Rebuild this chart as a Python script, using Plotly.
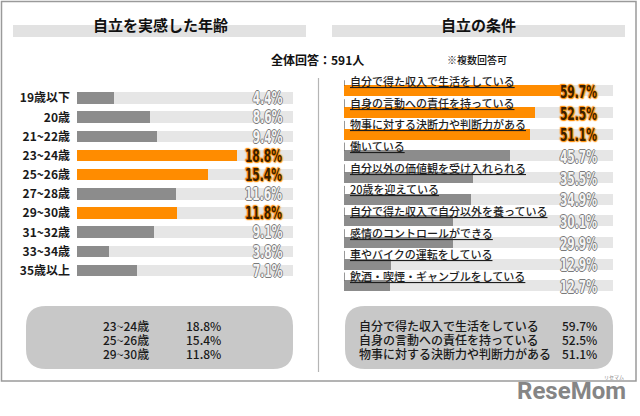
import plotly.graph_objects as go

W, H = 640, 416


def px(x):
    return x / W


def py(y):
    return 1 - y / H


# ---------------- data ----------------
ages = ["19歳以下", "20歳", "21~22歳", "23~24歳", "25~26歳",
        "27~28歳", "29~30歳", "31~32歳", "33~34歳", "35歳以上"]
age_pct = [4.4, 8.6, 9.4, 18.8, 15.4, 11.6, 11.8, 9.1, 3.8, 7.1]

conditions = [
    "自分で得た収入で生活をしている",
    "自身の言動への責任を持っている",
    "物事に対する決断力や判断力がある",
    "働いている",
    "自分以外の価値観を受け入れられる",
    "20歳を迎えている",
    "自分で得た収入で自分以外を養っている",
    "感情のコントロールができる",
    "車やバイクの運転をしている",
    "飲酒・喫煙・ギャンブルをしている",
]
cond_pct = [59.7, 52.5, 51.1, 45.7, 35.5, 34.9, 30.1, 29.9, 12.9, 12.7]

total_n = 591
title_left = "自立を実感した年齢"
title_right = "自立の条件"
note_total = "全体回答：%d人" % total_n
note_multi = "※複数回答可"

AGE_MAX = 25.4
COND_MAX = 74.0

# ---------------- styles ----------------
ORANGE = "#ff8c00"
GRAY = "#8c8c8c"
TRACK = "#e6e6e6"
BOX = "#c8c8c8"
JP = "Noto Sans CJK JP, sans-serif"
NARROW = "Liberation Sans Narrow, Nimbus Sans Narrow, DejaVu Sans Condensed, Roboto Condensed, Roboto, sans-serif"
HI_SHADOW = "0 0 2px #ff8c00, 0 0 2px #ff8c00, 1px 1px 1px #ff8c00, -1px -1px 1px #ff8c00"
LO_SHADOW = "1px 0 0 #7a7a7a, -1px 0 0 #7a7a7a, 0 1px 0 #7a7a7a, 0 -1px 0 #7a7a7a"

top_ages = sorted(range(len(age_pct)), key=lambda i: -age_pct[i])[:3]
top_ages_sorted = sorted(top_ages, key=lambda i: -age_pct[i])
age_colors = [ORANGE if i in top_ages else GRAY for i in range(len(ages))]
cond_colors = [ORANGE if i < 3 else GRAY for i in range(len(conditions))]

fig = go.Figure()

# left panel
fig.add_trace(go.Bar(y=ages, x=[AGE_MAX] * len(ages), orientation="h",
                     marker=dict(color=TRACK, line=dict(width=0)), width=0.6,
                     xaxis="x", yaxis="y", hoverinfo="skip"))
fig.add_trace(go.Bar(y=ages, x=age_pct, orientation="h",
                     marker=dict(color=age_colors, line=dict(width=0)), width=0.6,
                     xaxis="x", yaxis="y"))

# right panel
cond_idx = list(range(len(conditions)))
fig.add_trace(go.Bar(y=cond_idx, x=[COND_MAX] * len(conditions), orientation="h",
                     marker=dict(color=TRACK, line=dict(width=0)), width=0.5,
                     xaxis="x2", yaxis="y2", hoverinfo="skip"))
fig.add_trace(go.Bar(y=cond_idx, x=cond_pct, orientation="h",
                     marker=dict(color=cond_colors, line=dict(width=0)), width=0.5,
                     xaxis="x2", yaxis="y2", hovertext=conditions))

annotations = []
shapes = []

# percentage labels, left
for i, (a, v) in enumerate(zip(ages, age_pct)):
    hi = i in top_ages
    annotations.append(dict(
        x=AGE_MAX - 1.1, y=i, xref="x", yref="y", xanchor="right", yanchor="middle",
        text="<b>%.1f%%</b>" % v, showarrow=False,
        font=dict(family=NARROW, size=17, color="#3a1e00" if hi else "#f4f4f4",
                  shadow=HI_SHADOW if hi else LO_SHADOW)))

# labels + percentages, right
for i, (c, v) in enumerate(zip(conditions, cond_pct)):
    hi = i < 3
    annotations.append(dict(
        x=0, y=i, xref="x2", yref="y2", xanchor="left", yanchor="middle",
        xshift=4, yshift=10, text=c, showarrow=False,
        font=dict(family=JP, size=11, color="#1e1e1e", lineposition="under", weight=500)))
    annotations.append(dict(
        x=COND_MAX - 3.8, y=i, xref="x2", yref="y2", xanchor="right", yanchor="middle",
        yshift=-1, text="<b>%.1f%%</b>" % v, showarrow=False,
        font=dict(family=NARROW, size=17, color="#3a1e00" if hi else "#f4f4f4",
                  shadow=HI_SHADOW if hi else LO_SHADOW)))
    shapes.append(dict(type="line", xref="x2", yref="y2", x0=0, x1=0,
                       y0=i - 0.62, y1=i - 0.25, line=dict(color="#333", width=1)))

# outer frame
shapes.append(dict(type="rect", xref="paper", yref="paper",
                   x0=px(1.5), x1=px(636), y0=py(381), y1=py(1.5),
                   line=dict(color="#9a9a9a", width=1.5), fillcolor="rgba(0,0,0,0)", layer="below"))
# divider
shapes.append(dict(type="line", xref="paper", yref="paper",
                   x0=px(318.5), x1=px(318.5), y0=py(372), y1=py(78),
                   line=dict(color="#b5b5b5", width=1.2)))
# title bands
for x0, x1 in [(13, 306), (332, 625)]:
    shapes.append(dict(type="rect", xref="paper", yref="paper",
                       x0=px(x0), x1=px(x1), y0=py(37), y1=py(25),
                       line=dict(width=0), fillcolor="#e2e2e2", layer="below"))


def rounded(x0, y0, x1, y1, r):
    rx, ry = r / W, r / H
    X0, X1, Y0, Y1 = px(x0), px(x1), py(y1), py(y0)
    return ("M %f,%f L %f,%f Q %f,%f %f,%f L %f,%f Q %f,%f %f,%f "
            "L %f,%f Q %f,%f %f,%f L %f,%f Q %f,%f %f,%f Z" % (
                X0 + rx, Y0, X1 - rx, Y0, X1, Y0, X1, Y0 + ry,
                X1, Y1 - ry, X1, Y1, X1 - rx, Y1,
                X0 + rx, Y1, X0, Y1, X0, Y1 - ry,
                X0, Y0 + ry, X0, Y0, X0 + rx, Y0))


for x0, x1 in [(26, 293), (345, 613)]:
    shapes.append(dict(type="path", xref="paper", yref="paper",
                       path=rounded(x0, 306, x1, 369, 20),
                       line=dict(width=0), fillcolor=BOX, layer="below"))


def paper_text(x, y, text, size, xanchor="center", color="#111", weight="normal", family=JP):
    return dict(x=px(x), y=py(y), xref="paper", yref="paper", xanchor=xanchor,
                yanchor="middle", text=text, showarrow=False,
                font=dict(family=family, size=size, color=color, weight=weight))


# titles
annotations.append(paper_text(160, 24, "<b>%s</b>" % title_left, 15))
annotations.append(paper_text(478, 24, "<b>%s</b>" % title_right, 15))
annotations.append(paper_text(269, 60, "<b>%s</b>" % note_total, 12, xanchor="left"))
annotations.append(paper_text(445, 60, note_multi, 10, xanchor="left", weight=500))

# summary boxes
row_y = [325, 339, 353]
for k, i in enumerate(top_ages_sorted):
    annotations.append(paper_text(101, row_y[k], ages[i], 12, xanchor="left",
                                  color="#1a1a1a", weight=500))
    annotations.append(paper_text(184, row_y[k], "%.1f%%" % age_pct[i], 12, xanchor="left",
                                  color="#1a1a1a", weight=500))
for k in range(3):
    annotations.append(paper_text(357, row_y[k], conditions[k], 12, xanchor="left",
                                  color="#1a1a1a", weight=500))
    annotations.append(paper_text(599, row_y[k], "%.1f%%" % cond_pct[k], 12, xanchor="right",
                                  color="#1a1a1a", weight=500))

# logo
annotations.append(paper_text(628, 391, "<b>ReseMom</b>", 24, xanchor="right",
                              color="#858585", family="Roboto, sans-serif"))
annotations.append(paper_text(614, 377, "リセマム", 5, color="#858585"))

fig.update_layout(
    width=W, height=H, autosize=False,
    margin=dict(l=0, r=0, t=0, b=0),
    paper_bgcolor="white", plot_bgcolor="white",
    barmode="overlay", bargap=0, showlegend=False,
    xaxis=dict(domain=[px(77), px(293)], range=[0, AGE_MAX], visible=False, fixedrange=True),
    yaxis=dict(domain=[py(282.8), py(86.2)], type="category", autorange="reversed",
               showgrid=False, zeroline=False, showline=False, ticks="",
               ticklabelstandoff=6, automargin=False, fixedrange=True,
               tickfont=dict(family=JP, size=12, color="#1a1a1a", weight="bold")),
    xaxis2=dict(domain=[px(344), px(613)], range=[0, COND_MAX], visible=False,
                anchor="y2", fixedrange=True),
    yaxis2=dict(domain=[py(296.8), py(80.2)], range=[len(conditions) - 0.5, -0.5],
                visible=False, anchor="x2", fixedrange=True),
    shapes=shapes, annotations=annotations,
)

post = """
document.body.style.margin = '0';
document.querySelectorAll('text.annotation-text').forEach(function (t) {
  var fam = t.style.fontFamily || '';
  if (fam.indexOf('Narrow') >= 0) {
    t.style.transformBox = 'fill-box';
    t.style.transformOrigin = 'right center';
    t.style.transform = 'scaleX(0.7)';
  }
});
"""

fig.write_html("out.html", post_script=post, config={"displayModeBar": False})
